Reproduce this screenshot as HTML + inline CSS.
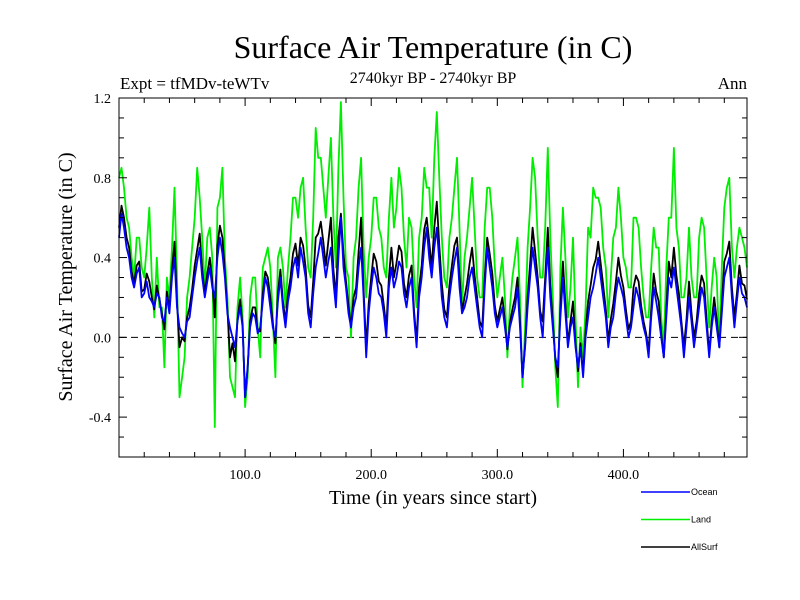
<!DOCTYPE html>
<html><head><meta charset="utf-8"><style>
body{margin:0;background:#fff;}
svg{display:block;font-family:"Liberation Serif",serif;}
</style></head><body>
<svg id="chart" width="800" height="600" viewBox="0 0 800 600" xmlns="http://www.w3.org/2000/svg">
<rect width="800" height="600" fill="#fff"/>
<text x="433" y="58" font-size="32" text-anchor="middle">Surface Air Temperature (in C)</text>
<text x="120" y="89" font-size="17">Expt = tfMDv-teWTv</text>
<text x="433" y="83" font-size="16" text-anchor="middle">2740kyr BP - 2740kyr BP</text>
<text x="747" y="89" font-size="17" text-anchor="end">Ann</text>
<text transform="translate(72,277) rotate(-90)" font-size="20" text-anchor="middle">Surface Air Temperature (in C)</text>
<text x="433" y="504" font-size="20" text-anchor="middle">Time (in years since start)</text>
<g id="plot"></g>
<g id="axes"></g>
<g id="legend"></g>
</svg>
<script>
// values at years 0,4,8,...,496
const ocean = [0.5,0.55,0.4,0.25,0.35,0.22,0.2,0.15,0.2,0.08,0.12,0.4,0.05,0.0,0.1,0.3,0.45,0.2,0.35,0.2,0.5,0.3,0.05,-0.05,0.15,-0.3,0.05,0.1,0.05,0.3,0.15,0.0,0.3,0.05,0.25,0.4,0.45,0.3,0.05,0.35,0.5,0.3,0.45,0.15,0.6,0.25,0.05,0.2,0.45,-0.1,0.25,0.3,0.2,0.0,0.35,0.3,0.35,0.15,0.3,-0.05,0.3,0.55,0.3,0.55,0.2,0.05,0.3,0.45,0.12,0.2,0.35,0.15,0.0,0.45,0.25,0.05,0.15,-0.05,0.1,0.25,-0.2,0.15,0.45,0.25,0.0,0.45,0.05,-0.15,0.3,-0.05,0.1,-0.15,-0.2,0.1,0.25,0.4,0.2,-0.05,0.1,0.3,0.2,0.0,0.15,0.2,0.05,-0.1,0.25,0.1,-0.1,0.3,0.35,0.15,-0.1,0.2,-0.05,0.15,0.2,-0.1,0.15,-0.05,0.3,0.4,0.05,0.3,0.2];
const land = [0.8,0.75,0.55,0.3,0.5,0.3,0.65,0.1,0.15,-0.15,0.2,0.75,-0.3,-0.1,0.3,0.6,0.7,0.25,0.55,-0.45,0.7,0.4,-0.2,-0.3,0.3,-0.35,0.2,0.3,-0.1,0.4,0.35,-0.2,0.45,0.15,0.5,0.7,0.75,0.55,0.3,1.05,0.9,0.6,1.0,0.35,1.18,0.35,0.0,0.5,0.9,0.2,0.5,0.7,0.5,0.3,0.8,0.65,0.75,0.35,0.55,0.15,0.6,0.75,0.5,1.13,0.5,0.25,0.6,0.9,0.15,0.5,0.8,0.3,0.2,0.75,0.6,0.2,0.4,-0.1,0.3,0.5,-0.25,0.45,0.9,0.5,0.3,0.95,0.2,-0.35,0.65,0.1,0.5,-0.25,-0.1,0.55,0.75,0.7,0.45,0.1,0.5,0.75,0.4,0.25,0.6,0.55,0.2,0.1,0.55,0.45,-0.05,0.6,0.95,0.45,0.2,0.55,0.2,0.5,0.55,0.05,0.4,-0.05,0.65,0.8,0.3,0.55,0.45];
const allsurf = [0.55,0.6,0.45,0.27,0.38,0.24,0.28,0.14,0.19,0.04,0.14,0.48,-0.05,-0.02,0.15,0.36,0.52,0.22,0.4,0.1,0.56,0.33,-0.1,-0.12,0.19,-0.3,0.08,0.15,0.03,0.33,0.2,-0.03,0.34,0.08,0.3,0.47,0.5,0.35,0.1,0.5,0.58,0.36,0.6,0.2,0.62,0.28,0.05,0.25,0.6,-0.05,0.3,0.38,0.26,0.05,0.45,0.37,0.43,0.2,0.36,-0.02,0.36,0.6,0.35,0.68,0.27,0.1,0.36,0.5,0.13,0.27,0.45,0.2,0.05,0.5,0.32,0.08,0.2,-0.06,0.14,0.3,-0.2,0.2,0.55,0.3,0.08,0.55,0.08,-0.2,0.38,-0.03,0.18,-0.17,-0.18,0.18,0.35,0.48,0.26,-0.02,0.17,0.4,0.25,0.04,0.25,0.28,0.08,-0.07,0.32,0.18,-0.1,0.38,0.45,0.22,-0.05,0.28,0.0,0.22,0.27,-0.08,0.2,-0.05,0.38,0.48,0.1,0.36,0.26];
// values at years 2,6,10,...,498
const oceanMid = [0.62,0.45,0.3,0.32,0.2,0.28,0.18,0.22,0.1,0.2,0.3,0.15,0.02,0.08,0.2,0.38,0.3,0.28,0.25,0.4,0.42,0.12,0.0,0.08,0.05,-0.15,0.12,0.02,0.18,0.25,0.05,0.18,0.15,0.18,0.35,0.3,0.38,0.12,0.22,0.42,0.4,0.38,0.28,0.4,0.35,0.12,0.15,0.35,0.2,0.12,0.35,0.22,0.12,0.25,0.25,0.38,0.22,0.25,0.1,0.2,0.45,0.4,0.45,0.38,0.1,0.2,0.38,0.25,0.15,0.3,0.25,0.05,0.25,0.35,0.12,0.1,0.05,0.05,0.15,0.05,-0.05,0.3,0.35,0.1,0.25,0.2,-0.1,0.1,0.12,0.05,-0.05,-0.05,0.0,0.2,0.32,0.3,0.1,0.05,0.22,0.25,0.1,0.05,0.25,0.12,0.0,0.1,0.18,0.0,0.1,0.25,0.25,0.05,0.05,0.08,0.05,0.25,0.05,0.05,0.05,0.12,0.35,0.2,0.18,0.22,0.15];
const landMid = [0.85,0.6,0.4,0.5,0.35,0.45,0.3,0.4,0.15,0.3,0.45,0.3,-0.2,0.2,0.45,0.85,0.5,0.5,0.4,0.65,0.85,0.2,-0.25,0.15,0.1,-0.2,0.3,0.05,0.35,0.45,0.1,0.4,0.35,0.35,0.7,0.6,0.8,0.35,0.6,0.9,0.75,0.8,0.6,0.85,0.7,0.3,0.4,0.75,0.45,0.4,0.7,0.55,0.35,0.6,0.55,0.85,0.5,0.6,0.3,0.5,0.85,0.75,0.9,0.8,0.3,0.5,0.75,0.55,0.4,0.65,0.55,0.2,0.55,0.75,0.35,0.3,0.2,0.15,0.4,0.2,0.05,0.65,0.8,0.3,0.55,0.5,-0.15,0.35,0.4,0.25,0.1,0.05,0.15,0.5,0.7,0.65,0.35,0.3,0.55,0.6,0.35,0.25,0.6,0.35,0.1,0.35,0.45,0.1,0.35,0.6,0.55,0.2,0.3,0.3,0.2,0.6,0.3,0.25,0.3,0.35,0.75,0.45,0.45,0.5,0.35];
const allsurfMid = [0.66,0.5,0.33,0.36,0.23,0.32,0.2,0.26,0.12,0.23,0.34,0.18,0.0,0.1,0.24,0.44,0.34,0.32,0.28,0.46,0.5,0.14,-0.03,0.09,0.06,-0.16,0.15,0.03,0.22,0.3,0.07,0.22,0.18,0.22,0.42,0.36,0.46,0.16,0.28,0.52,0.48,0.48,0.34,0.5,0.42,0.16,0.2,0.43,0.24,0.17,0.42,0.28,0.16,0.3,0.3,0.46,0.27,0.31,0.13,0.25,0.54,0.48,0.55,0.46,0.14,0.26,0.46,0.31,0.2,0.37,0.31,0.08,0.3,0.42,0.16,0.14,0.08,0.07,0.2,0.08,-0.04,0.37,0.43,0.13,0.3,0.26,-0.11,0.15,0.17,0.08,-0.03,-0.03,0.03,0.26,0.39,0.37,0.14,0.09,0.28,0.31,0.14,0.08,0.31,0.16,0.02,0.14,0.23,0.02,0.14,0.3,0.31,0.08,0.09,0.12,0.08,0.31,0.09,0.08,0.09,0.16,0.42,0.25,0.22,0.27,0.19];
const yTicks = [-0.4, 0.0, 0.4, 0.8, 1.2];
const yTickLabels = ["-0.4", "0.0", "0.4", "0.8", "1.2"];
const xTicks = [100, 200, 300, 400];
const xTickLabels = ["100.0", "200.0", "300.0", "400.0"];
const seriesNames = ["Ocean", "Land", "AllSurf"];
const seriesColors = ["#0000ff", "#00ee00", "#000000"];

const X0 = 119, X1 = 747, Y0 = 98, Y1 = 457;
const xMin = 0, xMax = 498, yMin = -0.6, yMax = 1.2;
const xs = v => X0 + (v - xMin) / (xMax - xMin) * (X1 - X0);
const ys = v => Y1 - (v - yMin) / (yMax - yMin) * (Y1 - Y0);
const NS = "http://www.w3.org/2000/svg";
function mk(tag, attrs, parent) {
  const e = document.createElementNS(NS, tag);
  for (const k in attrs) e.setAttribute(k, attrs[k]);
  parent.appendChild(e);
  return e;
}
function interleave(a, b) {
  const out = [];
  for (let i = 0; i < a.length; i++) {
    out.push([i * 4, a[i]]);
    if (i < b.length) out.push([i * 4 + 2, b[i]]);
  }
  return out;
}
const plot = document.getElementById('plot');
const axes = document.getElementById('axes');
const legend = document.getElementById('legend');

const zl = mk('line', {x1: X0, x2: X1, y1: ys(0), y2: ys(0), stroke: '#000', 'stroke-width': 1, 'stroke-dasharray': '7,5'}, plot);



const drawOrder = [[interleave(land, landMid), 1], [interleave(allsurf, allsurfMid), 2], [interleave(ocean, oceanMid), 0]];
const seriesKeys = ['land-line', 'allsurf-line', 'ocean-line'];
drawOrder.forEach((d, i) => {
  const pts = d[0].map(p => xs(p[0]).toFixed(1) + ',' + ys(p[1]).toFixed(1)).join(' ');
  const pl = mk('polyline', {points: pts, fill: 'none', stroke: seriesColors[d[1]], 'stroke-width': 1.8, 'stroke-linejoin': 'round'}, plot);
  
  
});

const fr = mk('rect', {x: X0, y: Y0, width: X1 - X0, height: Y1 - Y0, fill: 'none', stroke: '#000', 'stroke-width': 1}, axes);



for (let v = 20; v < xMax; v += 20) {
  const major = v % 100 === 0;
  const len = major ? 8 : 5;
  mk('line', {x1: xs(v), x2: xs(v), y1: Y1, y2: Y1 - len, stroke: '#000'}, axes);
  mk('line', {x1: xs(v), x2: xs(v), y1: Y0, y2: Y0 + len, stroke: '#000'}, axes);
}
for (let k = -5; k < 12; k++) {
  const v = k / 10;
  const major = k % 4 === 0;
  const len = major ? 8 : 5;
  mk('line', {x1: X0, x2: X0 + len, y1: ys(v), y2: ys(v), stroke: '#000'}, axes);
  mk('line', {x1: X1, x2: X1 - len, y1: ys(v), y2: ys(v), stroke: '#000'}, axes);
}
yTicks.forEach((v, i) => {
  const t = mk('text', {x: X0 - 8, y: ys(v) + 5, 'font-size': 14, 'text-anchor': 'end'}, axes);
  t.textContent = yTickLabels[i];
  
  
});
xTicks.forEach((v, i) => {
  const t = mk('text', {x: xs(v), y: Y1 + 22, 'font-size': 14, 'text-anchor': 'middle'}, axes);
  t.textContent = xTickLabels[i];
  
  
});

seriesNames.forEach((n, i) => {
  const y = 492 + i * 27.5;
  const g = mk('g', {}, legend);
  
  
  mk('line', {x1: 641, x2: 690, y1: y, y2: y, stroke: seriesColors[i], 'stroke-width': 1.5}, g);
  const t = mk('text', {x: 691, y: y + 3, 'font-size': 9, 'font-family': 'Liberation Sans, sans-serif'}, g);
  t.textContent = n;
});
</script>
</body></html>
